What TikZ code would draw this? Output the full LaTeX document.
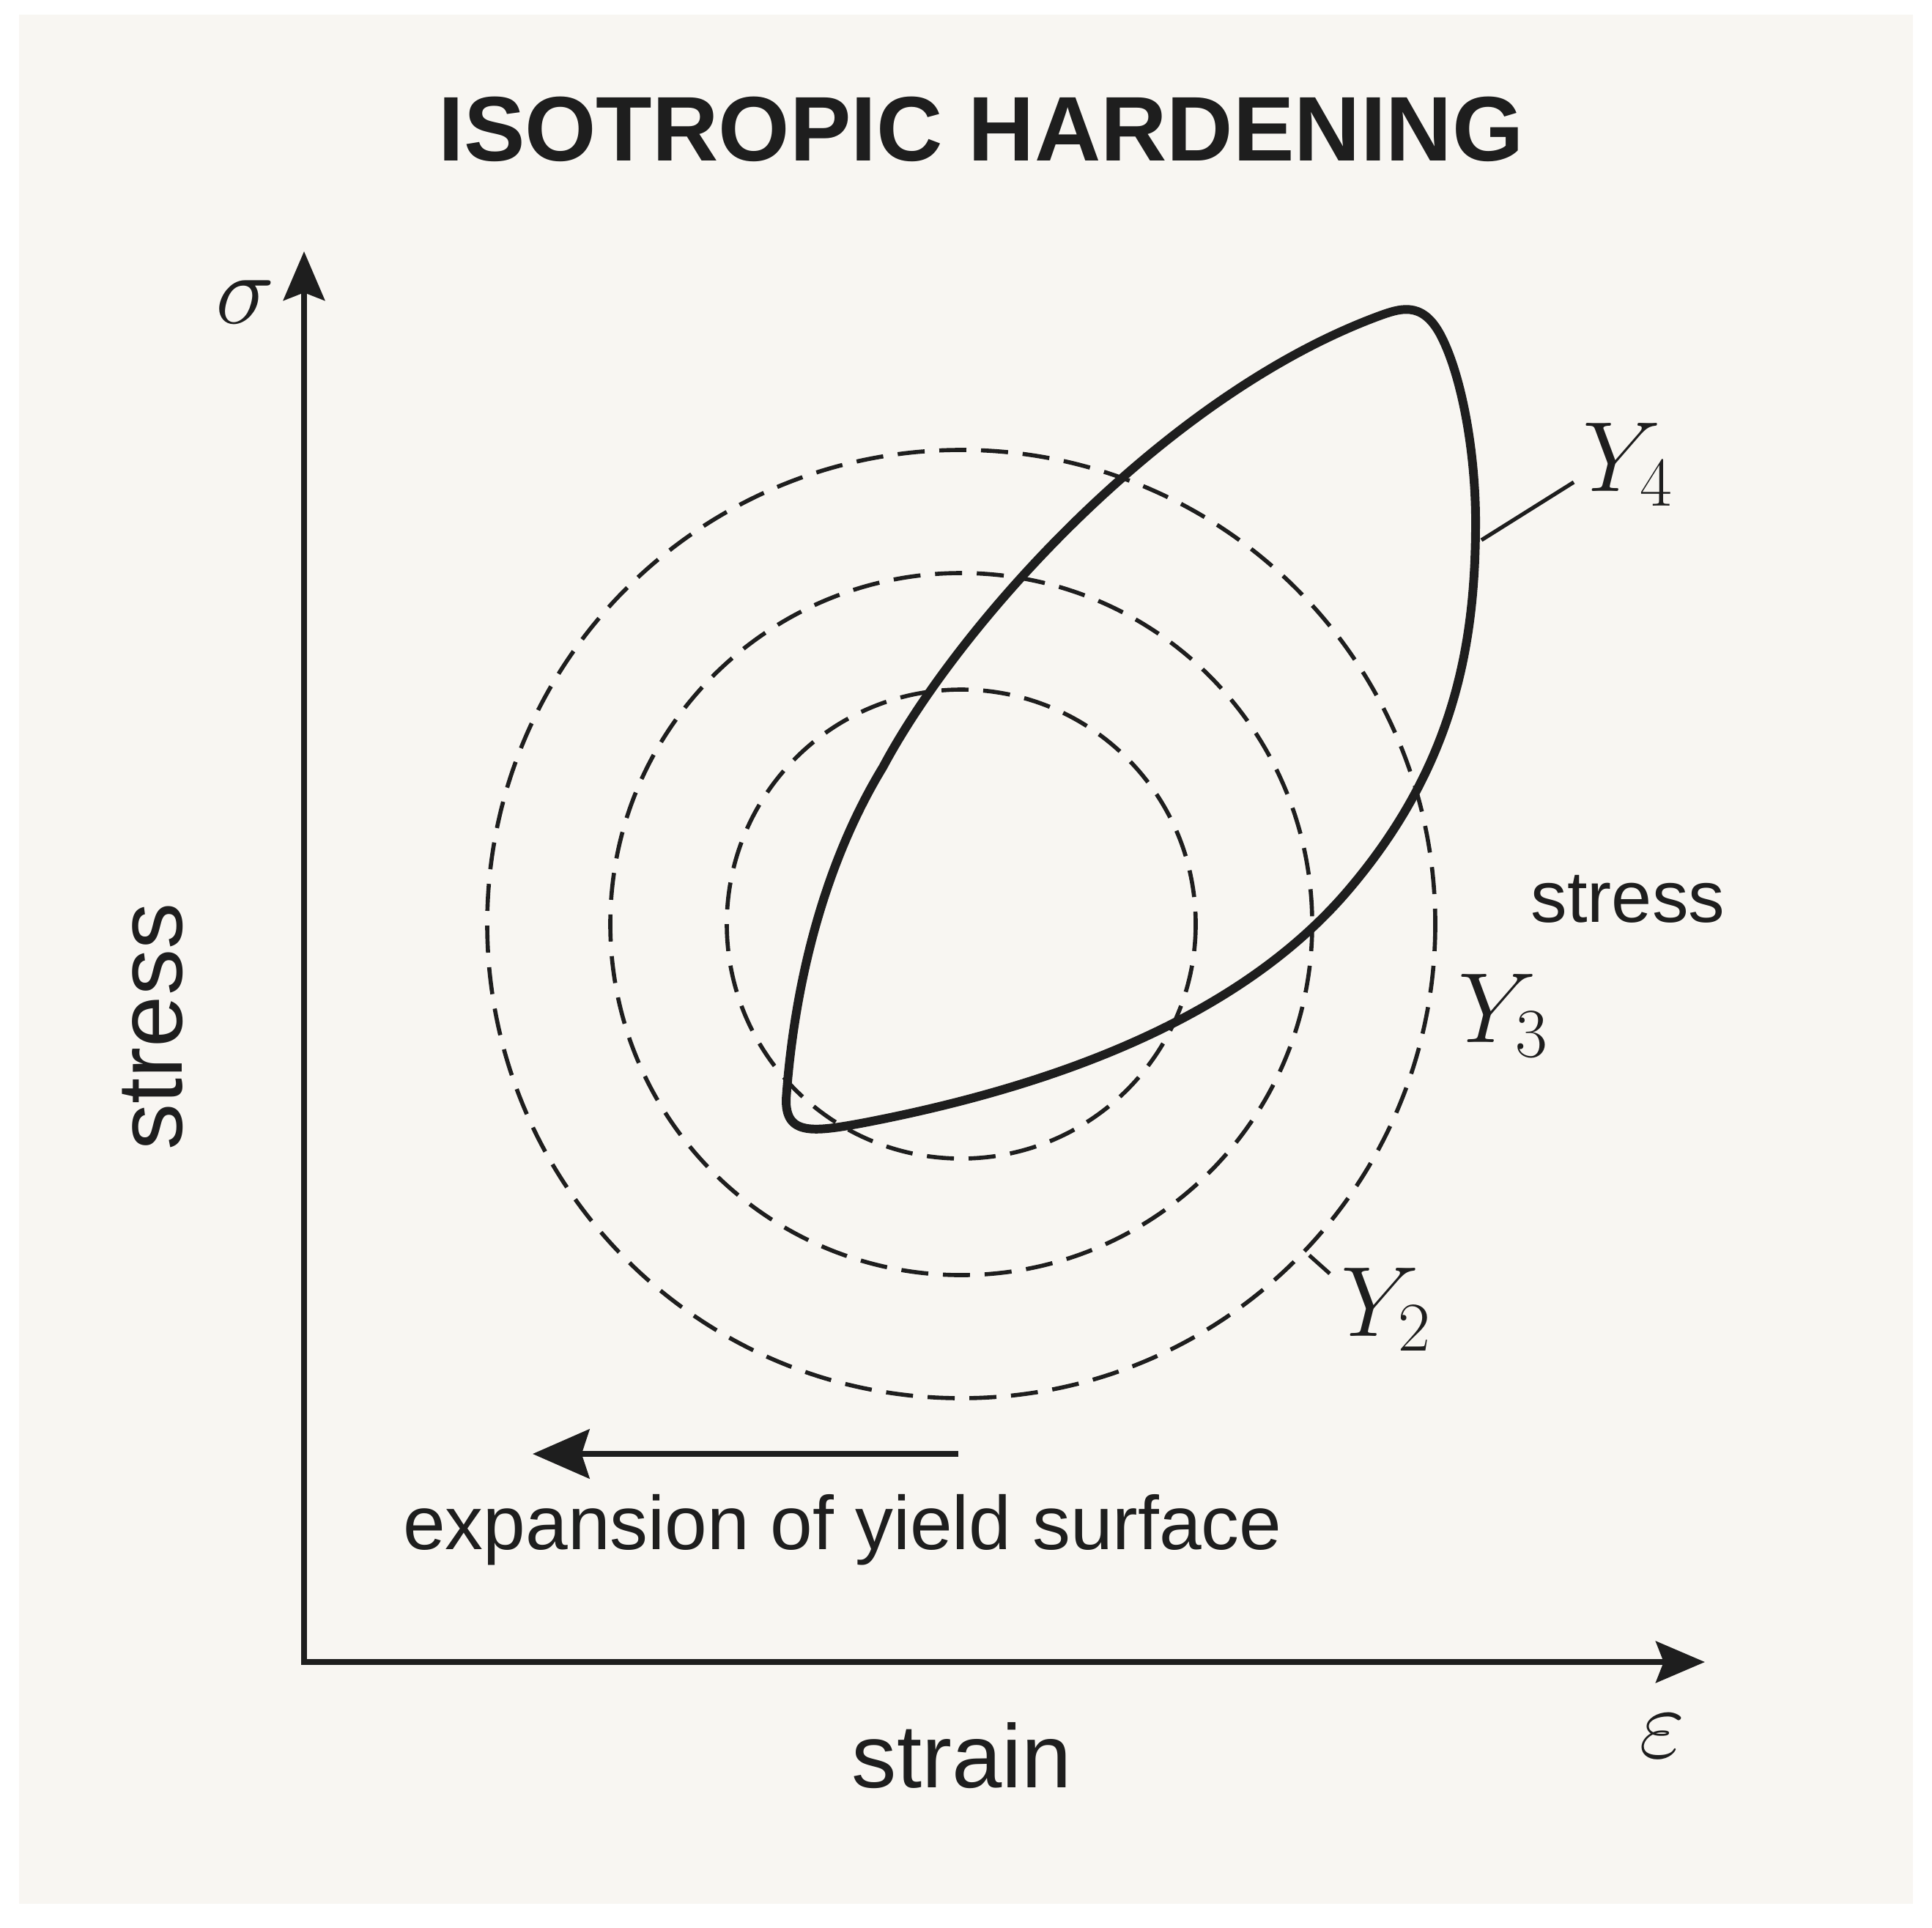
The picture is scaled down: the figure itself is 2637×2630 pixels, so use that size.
\RequirePackage{fix-cm}
\documentclass[tikz,border=0pt]{standalone}
\usepackage{fontspec}
\setmainfont{Liberation Sans}
\usetikzlibrary{arrows.meta}
\definecolor{panel}{HTML}{F8F6F2}
\definecolor{ink}{HTML}{1E1E1E}
\tikzset{
  axisline/.style={draw=ink, line width=2.4pt, line join=miter},
  dashcircle/.style={draw=ink, line width=1.6pt, dash pattern=on 10.5pt off 5.7pt},
  loopline/.style={draw=ink, line width=3.4pt, line join=round},
  leader/.style={draw=ink, line width=1.5pt},
  lbl/.style={text=ink, inner sep=0pt},
  mathlbl/.style={text=ink, inner sep=0pt, font=\fontsize{38.7pt}{46pt}\selectfont},
}
\begin{document}
\begin{tikzpicture}[x=0.01cm, y=-0.01cm]
\useasboundingbox (0,0) rectangle (2637,2630);
\fill[white] (0,0) rectangle (2637,2630);
\fill[panel] (26,20) rectangle (2611,2598);

% title
\node[lbl, anchor=base, font=\fontsize{35.6pt}{42pt}\selectfont\bfseries] (title) at (1339,219) {ISOTROPIC HARDENING};

% axes
\coordinate (O) at (415,2268);
\coordinate (ytip) at (415,343);
\coordinate (xtip) at (2327,2268);
\draw[axisline, {Stealth[length=19pt, width=16pt, inset=3pt]}-{Stealth[length=19pt, width=16pt, inset=3pt]}] (ytip) -- (O) -- (xtip);

\node[mathlbl] (sigma) at (335,412) {$\sigma$};
\node[mathlbl] (eps) at (2269,2369) {$\varepsilon$};

\node[lbl, anchor=base, rotate=90, font=\fontsize{35.9pt}{42pt}\selectfont] (stressL) at (248,1401) {stress};
\node[lbl, anchor=base, font=\fontsize{34.9pt}{42pt}\selectfont] (strain) at (1313,2439) {strain};
\node[lbl, anchor=base, font=\fontsize{28.2pt}{34pt}\selectfont] (stressR) at (2222,1258) {stress};

% dashed yield surfaces
\coordinate (C) at (1312,1261);
\draw[dashcircle] (C) circle[radius=320];
\draw[dashcircle] (C) circle[radius=479];
\draw[dashcircle] (C) circle[radius=647];

% loading loop
\draw[loopline] (1073,1500)
  .. controls (1085,1330) and (1130,1170) .. (1205,1047)
  .. controls (1310,850) and (1590,540) .. (1880,432)
  .. controls (1910,421) and (1940,410) .. (1965,455)
  .. controls (1995,510) and (2015,620) .. (2014,720)
  .. controls (2013,880) and (1985,1045) .. (1840,1215)
  .. controls (1695,1385) and (1450,1480) .. (1180,1532)
  .. controls (1110,1545) and (1072,1550) .. cycle;

% labels of the surfaces
\node[mathlbl, anchor=base west] (Y4) at (2160,670) {$Y_4$};
\node[mathlbl, anchor=base west] (Y3) at (1990,1422) {$Y_3$};
\node[mathlbl, anchor=base west] (Y2) at (1830,1823) {$Y_2$};
\coordinate (l4a) at (2022,737);
\coordinate (l4b) at (2148,658);
\draw[leader] (l4a) -- (l4b);
\coordinate (l2a) at (1787,1713);
\coordinate (l2b) at (1815,1738);
\draw[leader] (l2a) -- (l2b);

% expansion arrow
\coordinate (ea) at (1308,1984);
\coordinate (eb) at (727,1984);
\draw[axisline, -{Stealth[length=22pt, width=19pt, inset=3pt]}] (ea) -- (eb);
\node[lbl, anchor=base, font=\fontsize{29.5pt}{36pt}\selectfont] (expansion) at (1150,2114) {expansion of yield surface};
\end{tikzpicture}
\end{document}
